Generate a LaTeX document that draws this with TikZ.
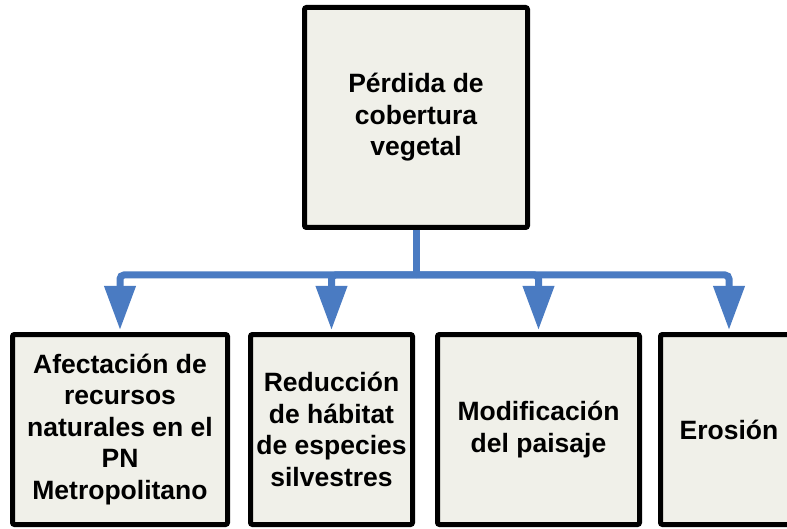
\documentclass[tikz,border=0pt]{standalone}
\usepackage{fontspec}
\setmainfont{Liberation Sans}
\usetikzlibrary{arrows.meta}
\definecolor{boxfill}{HTML}{F0F0E9}
\definecolor{connblue}{HTML}{4A7BC2}
\tikzset{
  box/.style={draw=black, line width=5pt, fill=boxfill, rounded corners=2pt,
    align=center, font=\fontsize{26.5}{31.5}\selectfont\bfseries, inner sep=0pt},
  stem/.style={draw=connblue, line width=7pt},
  branch/.style={draw=connblue, line width=7pt, rounded corners=4pt,
    -{Triangle[width=30pt,length=44pt]}, shorten >=2pt},
}
\begin{document}
\begin{tikzpicture}[x=1pt,y=-1pt]
\useasboundingbox (0,0) rectangle (787,529);
\clip (0,0) rectangle (787,529);
\node[box, minimum width=223pt, minimum height=220pt] (top) at (416,117.5)
  {Pérdida de\\cobertura\\vegetal};
\node[box, minimum width=215pt, minimum height=190pt] (b1) at (120,429.5)
  {Afectación de\\recursos\\naturales en el\\PN\\Metropolitano};
\node[box, minimum width=162pt, minimum height=190pt] (b2) at (331.5,429.5)
  {Reducción\\de hábitat\\de especies\\silvestres};
\node[box, minimum width=202pt, minimum height=190pt] (b3) at (538.5,429.5)
  {Modificación\\del paisaje};
\node[box, minimum width=137pt, minimum height=190pt] (b4) at (729,429.5)
  {Erosión};
\coordinate (j) at (416,275);
\draw[stem] (top.south) -- (j);
\draw[branch] (j) -| (b1.north);
\draw[branch] (j) -| (b2.north);
\draw[branch] (j) -| (b3.north);
\draw[branch] (j) -| (b4.north);
\end{tikzpicture}
\end{document}
